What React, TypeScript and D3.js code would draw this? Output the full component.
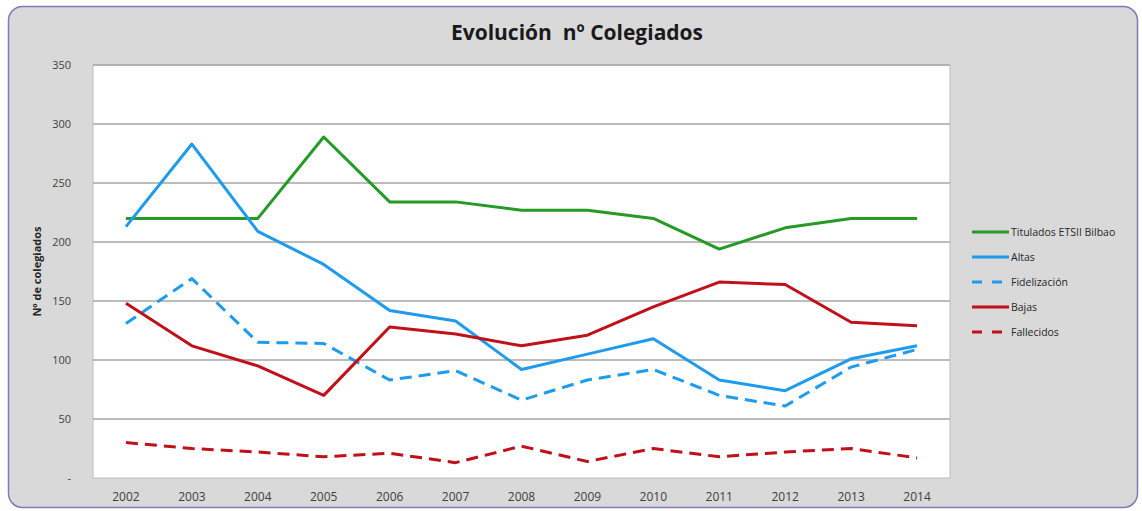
import React, { useEffect, useRef } from 'react';
import * as d3 from 'd3';

const years = ['2002', '2003', '2004', '2005', '2006', '2007', '2008', '2009', '2010', '2011', '2012', '2013', '2014'];
const titulados = [220, 220, 220, 289, 234, 234, 227, 227, 220, 194, 212, 220, 220];
const altas = [213, 283, 209, 181, 142, 133, 92, 105, 118, 83, 74, 101, 112];
const fidelizacion = [131, 169, 115, 114, 83, 91, 66, 83, 92, 70, 61, 94, 109];
const bajas = [148, 112, 95, 70, 128, 122, 112, 121, 145, 166, 164, 132, 129];
const fallecidos = [30, 25, 22, 18, 21, 13, 27, 14, 25, 18, 22, 25, 17];
const yTicks = [0, 50, 100, 150, 200, 250, 300, 350];

const series = [
  { name: 'Titulados ETSII Bilbao', values: titulados, color: '#259a25', dash: null },
  { name: 'Altas', values: altas, color: '#1f9bee', dash: null },
  { name: 'Fidelización', values: fidelizacion, color: '#1f9bee', dash: '12,7' },
  { name: 'Bajas', values: bajas, color: '#c01018', dash: null },
  { name: 'Fallecidos', values: fallecidos, color: '#c01018', dash: '12,7' },
];

const App: React.FC = () => {
  const svgRef = useRef<SVGSVGElement>(null);

  useEffect(() => {
    if (!svgRef.current) return;
    const svg = d3.select(svgRef.current);
    svg.selectAll('*').remove();

    const W = 1142, H = 511;
    const plot = { left: 93, right: 950, top: 65, bottom: 478 };
    const font = "'Open Sans', 'Liberation Sans', sans-serif";

    // frame
    svg.append('rect')
      .attr('x', 8.5).attr('y', 6.5)
      .attr('width', 1129).attr('height', 501)
      .attr('rx', 14)
      .attr('fill', '#d9d9d9')
      .attr('stroke', '#7b7bbd')
      .attr('stroke-width', 1.5);

    svg.append('text')
      .attr('x', 577).attr('y', 40)
      .attr('text-anchor', 'middle')
      .attr('font-family', font)
      .attr('font-weight', 'bold')
      .attr('font-size', 21)
      .attr('fill', '#1a1a1a')
      .style('white-space', 'pre')
      .text('Evolución  nº Colegiados');

    const x = d3.scaleBand<string>()
      .domain(years)
      .range([plot.left, plot.right]);

    const y = d3.scaleLinear()
      .domain([0, 350])
      .range([plot.bottom, plot.top]);

    // plot background
    svg.append('rect')
      .attr('x', plot.left).attr('y', plot.top)
      .attr('width', plot.right - plot.left)
      .attr('height', plot.bottom - plot.top)
      .attr('fill', '#ffffff')
      .attr('stroke', '#bdbdbd')
      .attr('stroke-width', 1);

    // grid
    svg.append('g')
      .selectAll('line')
      .data(yTicks.filter(d => d > 0))
      .enter()
      .append('line')
      .attr('x1', plot.left).attr('x2', plot.right)
      .attr('y1', d => y(d)).attr('y2', d => y(d))
      .attr('stroke', '#a6a6a6')
      .attr('stroke-width', 1.5);

    // y axis labels
    svg.append('g')
      .selectAll('text')
      .data(yTicks)
      .enter()
      .append('text')
      .attr('x', 71)
      .attr('y', d => y(d) + 4)
      .attr('text-anchor', 'end')
      .attr('font-family', font)
      .attr('font-size', 11)
      .attr('fill', '#404040')
      .text(d => (d === 0 ? '-' : String(d)));

    svg.append('text')
      .attr('transform', `translate(41,${(plot.top + plot.bottom) / 2}) rotate(-90)`)
      .attr('text-anchor', 'middle')
      .attr('font-family', font)
      .attr('font-weight', 'bold')
      .attr('font-size', 11)
      .attr('fill', '#262626')
      .text('Nº de colegiados');

    // x axis labels
    svg.append('g')
      .selectAll('text')
      .data(years)
      .enter()
      .append('text')
      .attr('x', d => (x(d) as number) + x.bandwidth() / 2)
      .attr('y', 501)
      .attr('text-anchor', 'middle')
      .attr('font-family', font)
      .attr('font-size', 12)
      .attr('fill', '#404040')
      .text(d => d);

    const line = d3.line<number>()
      .x((_, i) => (x(years[i]) as number) + x.bandwidth() / 2)
      .y(d => y(d));

    series.forEach(s => {
      const p = svg.append('path')
        .datum(s.values)
        .attr('fill', 'none')
        .attr('stroke', s.color)
        .attr('stroke-width', 3)
        .attr('stroke-linejoin', 'round')
        .attr('d', line);
      if (s.dash) p.attr('stroke-dasharray', s.dash);
    });

    // legend
    const legend = svg.append('g').attr('transform', 'translate(972,232)');
    series.forEach((s, i) => {
      const item = legend.append('g').attr('transform', `translate(0,${i * 25})`);
      const l = item.append('line')
        .attr('x1', 0).attr('x2', 37)
        .attr('y1', 0).attr('y2', 0)
        .attr('stroke', s.color)
        .attr('stroke-width', 3);
      if (s.dash) l.attr('stroke-dasharray', '10,10');
      item.append('text')
        .attr('x', 39)
        .attr('y', 0)
        .attr('dy', '0.35em')
        .attr('font-family', font)
        .attr('font-size', 10.5)
        .attr('fill', '#262626')
        .text(s.name);
    });

    svg.attr('width', W).attr('height', H);
  }, []);

  return (
    <svg
      ref={svgRef}
      width={1142}
      height={511}
      style={{ position: 'absolute', left: 0, top: 0, display: 'block' }}
    />
  );
};

export default App;
